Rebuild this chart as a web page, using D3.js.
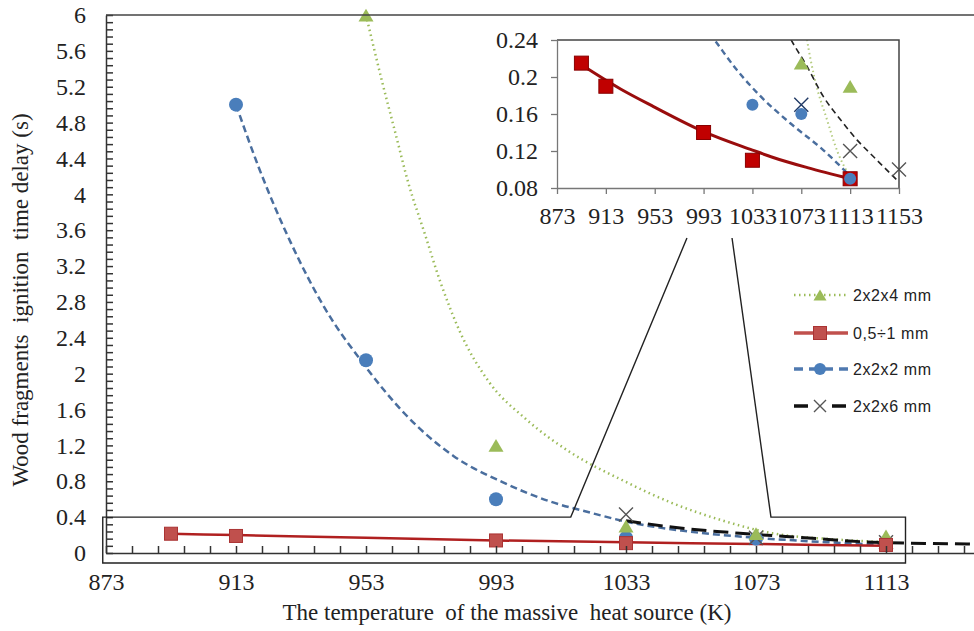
<!DOCTYPE html>
<html>
<head>
<meta charset="utf-8">
<script src="https://cdn.jsdelivr.net/npm/d3@7"></script>
<style>
  body { margin: 0; background: #fff; }
  svg { display: block; }
  .serif text, text.serif { font-family: "Liberation Serif", "Times New Roman", serif; fill: #222; }
</style>
</head>
<body>
<svg id="chart"></svg>
<script>
// measured data (K, s)
let redX = [893, 913, 993, 1033, 1113]
let redY = [0.215, 0.19, 0.14, 0.11, 0.09]
let blueX = [913, 953, 993, 1033, 1073, 1113]
let blueY = [5.0, 2.15, 0.6, 0.17, 0.16, 0.09]
let greenX = [953, 993, 1033, 1073, 1113]
let greenY = [6.0, 1.2, 0.3, 0.215, 0.19]
let crossX = [1033, 1073, 1113, 1153]
let crossY = [0.43, 0.17, 0.12, 0.10]

// trend lines
let mainRedTrend = [[893, 0.215], [913, 0.2], [953, 0.17], [993, 0.14], [1033, 0.12], [1073, 0.1], [1113, 0.08]]
let mainBlueTrend = [[913, 5.0], [920, 4.3], [930, 3.45], [940, 2.75], [952, 2.12], [965, 1.55], [980, 1.08], [995, 0.79], [1010, 0.57], [1022, 0.45], [1033, 0.35], [1050, 0.25], [1073, 0.17], [1095, 0.12], [1113, 0.09]]
let mainGreenTrend = [[953, 6.0], [958, 5.25], [962, 4.69], [966, 4.13], [971, 3.57], [976, 3.01], [982, 2.46], [991, 1.9], [1002, 1.5], [1016, 1.12], [1032, 0.81], [1047, 0.56], [1062, 0.37], [1078, 0.22], [1098, 0.15], [1113, 0.12]]
let mainBlackTrend = [[1033, 0.36], [1047, 0.29], [1068, 0.22], [1088, 0.17], [1109, 0.12], [1138, 0.10], [1160, 0.08]]

// trend lines
let insetRedTrend = [[892, 0.214], [925, 0.187], [952, 0.168], [993, 0.141], [1033, 0.121], [1050, 0.113], [1078, 0.102], [1113, 0.09]]
let insetBlueTrend = [[998, 0.247], [1002, 0.24], [1020, 0.208], [1039, 0.18], [1064, 0.15], [1091, 0.121], [1113, 0.093]]
let insetGreenTrend = [[1076, 0.255], [1077.5, 0.242], [1084, 0.198], [1094, 0.154], [1103, 0.118], [1113, 0.092]]
let insetBlackTrend = [[1061, 0.25], [1064, 0.242], [1077.5, 0.212], [1091, 0.179], [1105, 0.154], [1118.6, 0.132], [1132, 0.114], [1151, 0.089]]

let mainXTicks = [873, 913, 953, 993, 1033, 1073, 1113]
let mainYTicks = [0, 0.4, 0.8, 1.2, 1.6, 2, 2.4, 2.8, 3.2, 3.6, 4, 4.4, 4.8, 5.2, 5.6, 6]
let insetXTicks = [873, 913, 953, 993, 1033, 1073, 1113, 1153]
let insetYTicks = [0.08, 0.12, 0.16, 0.2, 0.24]

let legendNames = ['2x2x4 mm', '0,5÷1 mm', '2x2x2 mm', '2x2x6 mm']

let width = 974
let height = 631

let svg = d3.select('#chart').attr('width', width).attr('height', height)

let xScale = d3.scaleLinear().domain([873, 1153]).range([106, 1016])
let yScale = d3.scaleLinear().domain([0, 6]).range([553, 15])
let ixScale = d3.scaleLinear().domain([873, 1153]).range([557, 899])
let iyScale = d3.scaleLinear().domain([0.08, 0.24]).range([188, 40])

let fmt = v => String(+v.toFixed(2))

let styles = {
    green: { stroke: '#9bbb59', width: 2.5, dash: '1.5,3.5' },
    red: { stroke: '#b02020', width: 2.5, dash: null },
    blue: { stroke: '#4a6e9e', width: 2.5, dash: '7,4' },
    black: { stroke: '#111', width: 3, dash: '15,7' }
}

let drawMarker = (g, kind, cx, cy, s, cfg) => {
    if (kind === 'square') {
        g.append('rect').attr('x', cx - s / 2).attr('y', cy - s / 2).attr('width', s).attr('height', s)
         .attr('fill', cfg.fill).attr('stroke', cfg.edge).attr('stroke-width', 1)
    } else if (kind === 'circle') {
        g.append('circle').attr('cx', cx).attr('cy', cy).attr('r', s / 2).attr('fill', cfg.fill)
    } else if (kind === 'triangle') {
        let h = s * 0.85
        g.append('path').attr('d', `M${cx},${cy - h / 2}L${cx + s / 2},${cy + h / 2}L${cx - s / 2},${cy + h / 2}Z`)
         .attr('fill', cfg.fill)
    } else {
        let r = s / 2
        g.append('path').attr('d', `M${cx - r},${cy - r}L${cx + r},${cy + r}M${cx - r},${cy + r}L${cx + r},${cy - r}`)
         .attr('stroke', cfg.fill).attr('stroke-width', 1.4).attr('fill', 'none')
    }
}

// ---------- main plot ----------
svg.append('clipPath').attr('id', 'mainClip')
   .append('rect').attr('x', 106).attr('y', 0).attr('width', width - 106).attr('height', 556)

let plot = svg.append('g').attr('clip-path', 'url(#mainClip)')

let drawTrend = (g, pts, sx, sy, st) => {
    let line = d3.line().x(d => sx(d[0])).y(d => sy(d[1])).curve(d3.curveMonotoneX)
    g.append('path').datum(pts).attr('d', line).attr('fill', 'none')
     .attr('stroke', st.stroke).attr('stroke-width', st.width)
     .attr('stroke-dasharray', st.dash)
}

drawTrend(plot, mainGreenTrend, xScale, yScale, styles.green)
drawTrend(plot, mainBlueTrend, xScale, yScale, styles.blue)
drawTrend(plot, mainBlackTrend, xScale, yScale, styles.black)
drawTrend(plot, mainRedTrend, xScale, yScale, styles.red)

let mainMarks = plot.append('g')
blueX.forEach((v, i) => drawMarker(mainMarks, 'circle', xScale(v), yScale(blueY[i]), 14, { fill: '#4a7ebb' }))
crossX.forEach((v, i) => drawMarker(mainMarks, 'cross', xScale(v), yScale(crossY[i]), 14, { fill: '#555' }))
greenX.forEach((v, i) => drawMarker(mainMarks, 'triangle', xScale(v), yScale(greenY[i]), 15, { fill: '#9bbb59' }))
redX.forEach((v, i) => drawMarker(mainMarks, 'square', xScale(v), yScale(redY[i]), 13, { fill: '#c0504d', edge: '#a33' }))

// axes
let yMinor = d3.range(0, 6.001, 0.08)
let xMinor = d3.range(873, 1154, 8)

svg.append('g').attr('transform', 'translate(106,0)')
   .call(d3.axisLeft(yScale).tickValues(yMinor).tickSize(-7).tickSizeOuter(0).tickFormat(''))
   .call(g => g.selectAll('line,path').attr('stroke', '#333').attr('stroke-width', 1.5))

svg.append('g').attr('class', 'serif').attr('transform', 'translate(106,0)')
   .call(d3.axisLeft(yScale).tickValues(mainYTicks).tickSize(0).tickPadding(20).tickFormat(fmt))
   .call(g => g.select('.domain').remove())
   .call(g => g.selectAll('text').attr('font-size', 24).attr('fill', '#222'))

svg.append('g').attr('transform', 'translate(0,553)')
   .call(d3.axisBottom(xScale).tickValues(xMinor).tickSize(-7).tickSizeOuter(0).tickFormat(''))
   .call(g => g.selectAll('line,path').attr('stroke', '#333').attr('stroke-width', 1.5))

svg.append('g').attr('class', 'serif').attr('transform', 'translate(0,553)')
   .call(d3.axisBottom(xScale).tickValues(mainXTicks).tickSize(0).tickPadding(20).tickFormat(d3.format('d')))
   .call(g => g.select('.domain').remove())
   .call(g => g.selectAll('text').attr('font-size', 24).attr('fill', '#222'))

// top frame line
svg.append('line').attr('x1', 106).attr('x2', width).attr('y1', yScale(6)).attr('y2', yScale(6))
   .attr('stroke', '#444').attr('stroke-width', 1.5)

// axis titles
svg.append('text').attr('class', 'serif')
   .attr('transform', 'translate(28,300) rotate(-90)')
   .attr('text-anchor', 'middle').attr('font-size', 23).attr('xml:space', 'preserve')
   .text('Wood fragments  ignition  time delay (s)')

svg.append('text').attr('class', 'serif')
   .attr('x', 507).attr('y', 620)
   .attr('text-anchor', 'middle').attr('font-size', 23).attr('xml:space', 'preserve')
   .text('The temperature  of the massive  heat source (K)')

// zoom callout
let bx0 = xScale(872), bx1 = xScale(1119), byTop = yScale(0.4), byBot = 563
let cl = xScale(1016), cr = xScale(1077.6)
svg.append('path')
   .attr('d', `M${ixScale(979.4)},238L${cl},${byTop}L${bx0},${byTop}L${bx0},${byBot}L${bx1},${byBot}L${bx1},${byTop}L${cr},${byTop}L${ixScale(1016.3)},238`)
   .attr('fill', 'none').attr('stroke', '#222').attr('stroke-width', 1.4)

// ---------- inset ----------
let inset = svg.append('g')
inset.append('rect').attr('x', 515).attr('y', 26).attr('width', 420).attr('height', 205).attr('fill', '#fff')

inset.append('clipPath').attr('id', 'insetClip')
     .append('rect').attr('x', 557).attr('y', 40).attr('width', 342).attr('height', 148)

let iplot = inset.append('g').attr('clip-path', 'url(#insetClip)')
drawTrend(iplot, insetGreenTrend, ixScale, iyScale, { stroke: '#b5cc80', width: 2, dash: '1.5,3' })
drawTrend(iplot, insetBlackTrend, ixScale, iyScale, { stroke: '#222', width: 1.6, dash: '6,4' })
drawTrend(iplot, insetBlueTrend, ixScale, iyScale, { stroke: '#4a6e9e', width: 2.4, dash: '6,4' })
drawTrend(iplot, insetRedTrend, ixScale, iyScale, { stroke: '#9a0d0d', width: 3, dash: null })

// markers in the inset are not clipped at the plot edge, only values off the scale are left out
let inRange = v => v >= 0.08 && v <= 0.24
let iMarks = inset.append('g')
greenX.forEach((v, i) => { if (inRange(greenY[i])) drawMarker(iMarks, 'triangle', ixScale(v), iyScale(greenY[i]), 15, { fill: '#9bbb59' }) })
crossX.forEach((v, i) => { if (inRange(crossY[i])) drawMarker(iMarks, 'cross', ixScale(v), iyScale(crossY[i]), 14, { fill: i === 1 ? '#1f3864' : '#555' }) })
redX.forEach((v, i) => { if (inRange(redY[i])) drawMarker(iMarks, 'square', ixScale(v), iyScale(redY[i]), 14, { fill: '#c00000', edge: '#800' }) })
blueX.forEach((v, i) => { if (inRange(blueY[i])) drawMarker(iMarks, 'circle', ixScale(v), iyScale(blueY[i]), 12, { fill: '#4a7ebb' }) })

inset.append('path').attr('d', 'M557,40L899,40L899,188').attr('fill', 'none').attr('stroke', '#444').attr('stroke-width', 1.5)

inset.append('g').attr('class', 'serif').attr('transform', 'translate(557,0)')
     .call(d3.axisLeft(iyScale).tickValues(insetYTicks).tickSize(6).tickSizeOuter(0).tickPadding(13).tickFormat(fmt))
     .call(g => g.selectAll('line,path').attr('stroke', '#777').attr('stroke-width', 1.3))
     .call(g => g.selectAll('text').attr('font-size', 24).attr('fill', '#222'))

inset.append('g').attr('class', 'serif').attr('transform', 'translate(0,188)')
     .call(d3.axisBottom(ixScale).tickValues(insetXTicks).tickSize(6).tickSizeOuter(0).tickPadding(13).tickFormat(d3.format('d')))
     .call(g => g.selectAll('line,path').attr('stroke', '#777').attr('stroke-width', 1.3))
     .call(g => g.selectAll('text').attr('font-size', 24).attr('fill', '#222'))

// ---------- legend ----------
let legendRows = [
    { st: styles.green, mk: 'triangle', cfg: { fill: '#9bbb59' }, s: 13, y: 295 },
    { st: { stroke: '#c0504d', width: 3.5, dash: null }, mk: 'square', cfg: { fill: '#c0504d', edge: '#a33' }, s: 13, y: 333 },
    { st: { stroke: '#4f79b0', width: 3.5, dash: '9,6' }, mk: 'circle', cfg: { fill: '#4a7ebb' }, s: 12, y: 369 },
    { st: { stroke: '#111', width: 3.5, dash: '14,5' }, mk: 'cross', cfg: { fill: '#555' }, s: 12, y: 406 }
]
let legend = svg.append('g')
legendRows.forEach((r, i) => {
    legend.append('line').attr('x1', 794).attr('x2', 848).attr('y1', r.y).attr('y2', r.y)
          .attr('stroke', r.st.stroke).attr('stroke-width', r.st.width).attr('stroke-dasharray', r.st.dash)
    if (r.mk === 'cross') {
        legend.append('rect').attr('x', 812).attr('y', r.y - 7).attr('width', 16).attr('height', 14).attr('fill', '#fff')
    }
    drawMarker(legend, r.mk, 820, r.y, r.s, r.cfg)
    legend.append('text').attr('x', 853).attr('y', r.y).attr('dy', '0.36em')
          .attr('font-family', '"Liberation Sans", Arial, sans-serif').attr('font-size', 16)
          .attr('letter-spacing', 0.6).attr('fill', '#222')
          .text(legendNames[i])
})
</script>
</body>
</html>
